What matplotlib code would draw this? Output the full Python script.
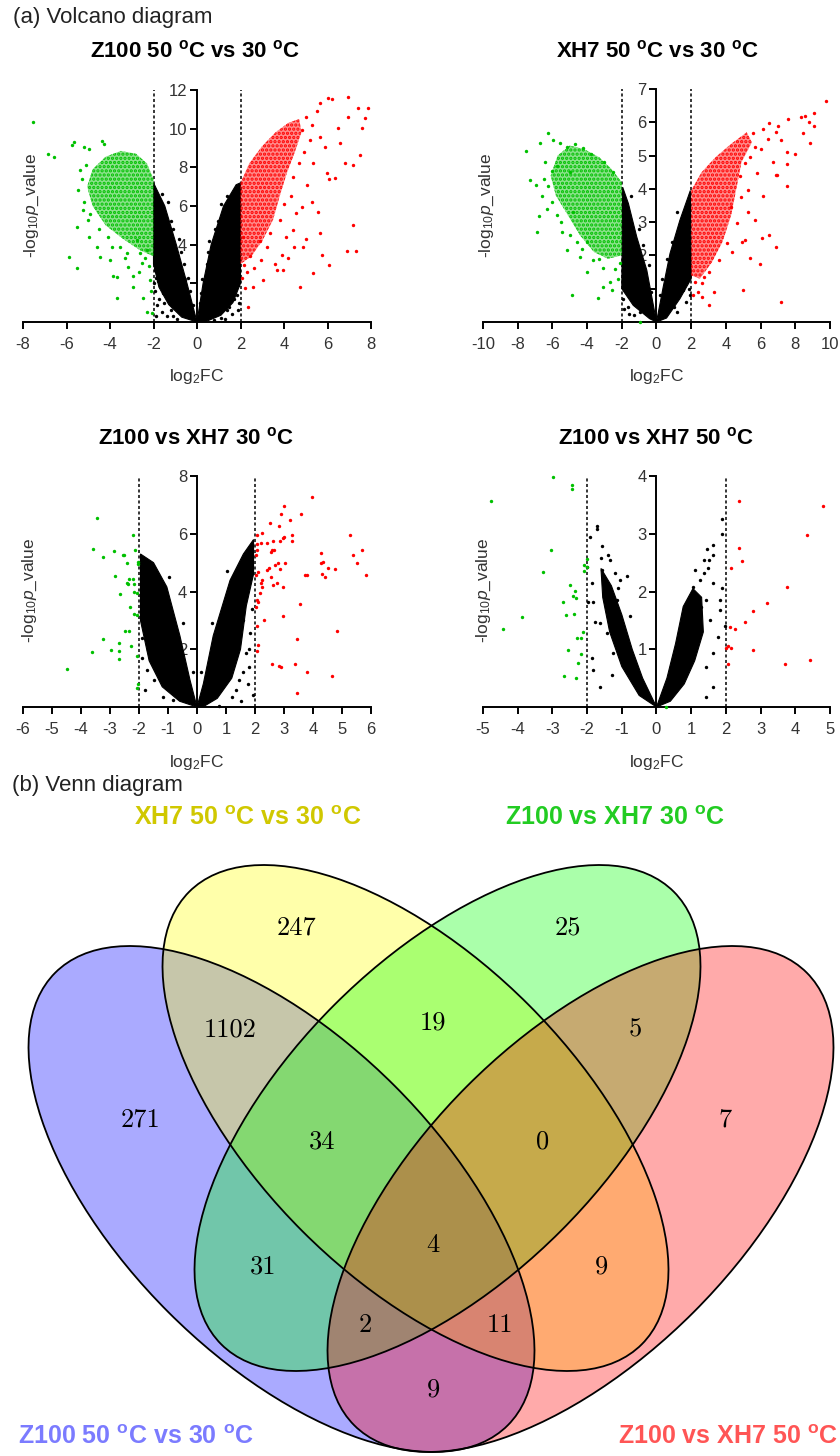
import numpy as np
import matplotlib.pyplot as plt
from matplotlib.patches import Ellipse, Polygon

plt.rcParams['font.family'] = ['Liberation Sans', 'DejaVu Sans']
plt.rcParams['mathtext.fontset'] = 'custom'
plt.rcParams['mathtext.rm'] = 'Liberation Sans'
plt.rcParams['mathtext.it'] = 'Liberation Sans:italic'
plt.rcParams['mathtext.bf'] = 'Liberation Sans:bold'
plt.rcParams['axes.unicode_minus'] = False
plt.rcParams['hatch.linewidth'] = 1.6

# ---------------- data ----------------
# volcano 1: Z100 50 C vs 30 C  (dense cores as outlines, loose points as points)
z1_black_left = [(0, 0), (-0.46, 2), (-0.95, 4), (-1.48, 6), (-2.0, 7.2), (-2.0, 3.0),
                 (-1.75, 1.8), (-1.3, 0.9), (-0.7, 0.25)]
z1_black_right = [(0, 0), (0.28, 2), (0.65, 4), (1.22, 6), (1.8, 7.1), (2.0, 7.2), (2.0, 2.0),
                  (1.65, 1.0), (1.1, 0.35), (0.4, 0.02)]
z1_black_pts = [(-1.9, 0.3), (-1.85, 0.9), (-1.95, 1.6), (-1.6, 0.5), (-1.4, 0.3), (-1.75, 1.2),
                (-1.55, 1.5), (-1.9, 2.3), (-1.1, 0.3), (-0.9, 0.15), (1.9, 0.6), (1.6, 0.4),
                (1.85, 1.4), (1.3, 0.15), (1.95, 1.0), (1.75, 1.7), (0.8, 0.1), (-2.0, 2.0),
                (1.4, 0.6), (-0.4, 2.3), (-0.85, 4.3), (-1.35, 6.2), (0.22, 2.2), (0.55, 4.2),
                (1.1, 6.1), (-0.2, 0.9), (0.15, 1.0), (-0.6, 3.0), (0.45, 3.0), (-1.2, 5.2),
                (0.95, 5.2), (-1.95, 2.7), (-1.8, 2.1), (-1.5, 1.0), (-1.2, 0.6), (1.9, 1.9),
                (1.7, 1.2), (1.45, 0.8), (1.1, 0.2), (-0.3, 1.6), (0.2, 1.5), (-0.75, 3.6),
                (0.5, 3.6), (-1.1, 4.8), (0.85, 4.8), (-1.6, 6.6), (1.4, 6.5)]
z1_green_core = [(-2.0, 3.4), (-2.0, 7.4), (-2.3, 8.2), (-2.8, 8.7), (-3.5, 8.85), (-4.2, 8.55),
                 (-4.8, 7.9), (-5.05, 7.0), (-4.8, 6.0), (-4.2, 5.0), (-3.4, 4.3), (-2.6, 3.7)]
z1_green_pts = [(-7.53, 10.36), (-6.84, 8.69), (-6.58, 8.52), (-5.76, 9.16), (-5.65, 9.3),
                (-5.2, 9.07), (-4.95, 8.95), (-4.38, 9.35), (-4.28, 9.19), (-5.38, 7.86),
                (-5.46, 6.83), (-5.5, 4.93), (-5.87, 3.34), (-5.5, 2.78), (-5.0, 5.28),
                (-4.95, 4.41), (-4.08, 4.41), (-3.69, 1.26), (-3.85, 2.4), (-3.7, 2.34),
                (-3.16, 2.86), (-2.96, 1.8), (-2.95, 2.4), (-2.54, 3.03), (-2.47, 1.22),
                (-2.31, 0.53), (-2.08, 0.45), (-2.62, 3.55), (-2.3, 3.7), (-3.2, 3.55),
                (-3.54, 3.9), (-4.46, 3.38), (-4.6, 3.9), (-4.0, 3.2), (-2.66, 2.6),
                (-2.16, 2.17), (-2.1, 1.6), (-2.76, 4.24), (-5.2, 6.2), (-5.3, 7.4),
                (-5.1, 8.1), (-4.9, 5.6), (-4.5, 4.8), (-3.9, 3.9), (-3.3, 3.3), (-2.2, 2.9),
                (-2.4, 3.3), (-5.25, 5.8)]
z1_red_core = [(2.0, 3.0), (2.0, 7.2), (2.4, 8.2), (3.0, 9.1), (3.6, 9.8), (4.2, 10.3),
               (4.7, 10.5), (4.8, 9.8), (4.5, 8.8), (4.1, 7.6), (3.8, 6.5), (3.5, 5.3),
               (3.0, 4.2), (2.5, 3.4)]
z1_red_pts = [(6.04, 11.57), (6.2, 11.55), (6.96, 11.62), (7.42, 11.05), (7.84, 11.05),
              (7.72, 10.54), (7.57, 10.02), (6.93, 10.58), (6.5, 10.02), (5.66, 11.31),
              (5.5, 10.9), (4.81, 9.93), (5.66, 9.59), (5.89, 9.07), (6.57, 9.24), (7.49, 8.64),
              (7.16, 8.12), (6.82, 8.2), (5.35, 8.21), (5.96, 7.69), (6.34, 7.43), (6.05, 7.4),
              (5.27, 6.22), (5.58, 5.71), (5.04, 7.09), (5.66, 4.59), (7.19, 5.02), (6.91, 3.69),
              (7.31, 3.69), (5.73, 3.47), (6.08, 2.95), (5.32, 2.55), (4.74, 1.8), (4.86, 3.86),
              (4.45, 3.9), (3.89, 3.47), (3.66, 2.69), (3.57, 3.0), (3.05, 2.17), (2.59, 1.83),
              (2.36, 0.79), (2.21, 1.74), (2.95, 3.2), (3.2, 3.9), (3.97, 2.69), (4.43, 4.76),
              (3.82, 5.28), (4.53, 5.62), (3.37, 4.59), (2.9, 4.2), (2.44, 3.4), (2.1, 4.4),
              (2.17, 2.95), (4.3, 6.5), (4.84, 5.96), (4.0, 6.1), (5.0, 10.6), (5.3, 10.2),
              (4.9, 8.8), (5.2, 9.4), (4.4, 7.5), (4.7, 8.2), (2.05, 2.3), (2.3, 2.6),
              (2.6, 2.8), (4.1, 4.4), (5.0, 4.3), (4.2, 3.3)]

# volcano 2: XH7 50 C vs 30 C
x2_black_left = [(0, 0), (-0.56, 1.56), (-1.14, 2.56), (-1.62, 3.56), (-1.95, 4.05),
                 (-2.0, 1.0), (-1.34, 0.5), (-0.4, 0.1)]
x2_black_right = [(0, 0), (0.39, 1.06), (0.78, 2.06), (1.35, 3.06), (1.95, 3.95), (2.0, 1.3),
                  (1.35, 0.7), (0.58, 0.12)]
x2_black_pts = [(-1.62, 0.46), (-0.95, 0.31), (-1.48, 1.06), (-1.77, 1.26), (-1.95, 0.7),
                (-1.3, 0.2), (1.74, 1.36), (1.55, 0.96), (0.98, 0.46), (1.9, 1.0), (1.2, 0.3),
                (-0.45, 1.7), (-1.0, 2.8), (0.3, 1.3), (1.2, 3.3), (-1.45, 3.8), (0.9, 2.4),
                (-1.85, 0.4), (-1.6, 0.25), (1.7, 0.6), (1.95, 0.8), (-0.3, 0.9), (0.2, 0.8),
                (-0.8, 2.3), (0.6, 1.9)]
x2_green_core = [(-2.0, 2.0), (-2.0, 4.2), (-2.6, 4.6), (-3.3, 4.95), (-4.2, 5.2), (-5.0, 5.3),
                 (-5.7, 5.0), (-6.1, 4.4), (-5.8, 3.8), (-5.1, 3.2), (-4.4, 2.6), (-3.6, 2.1),
                 (-2.8, 1.9)]
x2_green_pts = [(-7.29, 4.26), (-6.95, 4.11), (-6.9, 2.71), (-6.77, 3.18), (-6.23, 4.1),
                (-5.18, 2.16), (-4.89, 0.81), (-4.02, 1.51), (-3.35, 0.72), (-3.06, 1.05),
                (-2.67, 1.2), (-2.57, 0.95), (-2.1, 1.76), (-5.46, 2.71), (-4.6, 2.41),
                (-3.64, 1.86), (-3.06, 1.61), (-4.4, 1.96), (-6.0, 3.6), (-5.75, 3.2),
                (-6.6, 3.8), (-4.8, 3.3), (-4.0, 2.4), (-0.95, 0.01), (-7.52, 5.14),
                (-6.72, 5.37), (-6.24, 5.69), (-5.95, 5.47), (-5.56, 5.37), (-5.18, 5.27),
                (-4.71, 5.35), (-4.23, 5.22), (-6.43, 4.8), (-6.04, 4.55), (-5.75, 4.7),
                (-5.0, 4.5), (-6.5, 4.3), (-6.3, 3.4), (-5.5, 3.0), (-5.0, 2.6), (-4.3, 2.2),
                (-3.3, 1.9), (-2.4, 1.6), (-2.2, 1.3), (-3.8, 5.05), (-3.0, 4.8), (-2.5, 4.5)]
x2_red_core = [(2.0, 1.4), (2.0, 3.95), (2.6, 4.5), (3.4, 4.95), (4.3, 5.35), (5.2, 5.7),
               (5.5, 5.4), (4.9, 4.8), (4.6, 4.0), (4.3, 3.2), (3.8, 2.4), (3.2, 1.8), (2.5, 1.3)]
x2_red_pts = [(9.77, 6.65), (8.31, 6.15), (8.56, 6.18), (9.08, 6.28), (8.81, 6.01), (9.08, 5.88),
              (8.43, 5.68), (8.85, 5.38), (7.98, 5.05), (7.5, 5.12), (7.5, 4.75), (6.73, 4.82),
              (6.89, 4.42), (7.2, 5.48), (6.89, 5.7), (6.5, 5.98), (6.15, 5.81), (5.57, 5.67),
              (5.67, 5.27), (5.38, 4.97), (5.1, 4.77), (5.77, 4.47), (6.93, 4.41), (7.5, 4.08),
              (6.15, 3.79), (5.28, 3.31), (5.67, 3.06), (6.5, 2.61), (6.06, 2.51), (6.89, 2.26),
              (5.1, 2.46), (4.91, 2.41), (5.4, 1.91), (5.95, 1.74), (5.0, 0.96), (7.16, 0.61),
              (3.0, 0.51), (3.3, 0.91), (2.64, 0.76), (2.64, 1.16), (2.74, 1.36), (3.6, 1.86),
              (4.37, 2.11), (4.09, 2.36), (4.66, 2.96), (4.27, 3.46), (4.85, 3.76), (5.25, 3.96),
              (2.2, 1.2), (2.4, 0.9), (2.1, 0.8), (3.0, 1.5), (4.8, 4.4), (6.0, 5.2), (6.4, 5.5),
              (7.0, 5.9), (7.6, 6.1)]

# volcano 3: Z100 vs XH7 30 C
c30_black_left = [(0, 0), (-0.24, 0.93), (-0.59, 2.47), (-1.04, 4.16), (-1.5, 5.0), (-1.95, 5.3),
                  (-1.95, 3.0), (-1.65, 1.6), (-1.2, 0.7), (-0.6, 0.2)]
c30_black_right = [(0, 0), (0.22, 0.81), (0.56, 2.47), (1.14, 4.39), (1.6, 5.3), (1.95, 5.8),
                   (1.95, 4.6), (1.7, 3.5), (1.5, 2.0), (1.2, 1.0), (0.7, 0.3), (0.2, 0)]
c30_black_pts = [(-1.85, 3.0), (-1.68, 1.97), (-1.74, 1.28), (-1.5, 0.93), (-1.16, 0.36),
                 (-1.04, 0.81), (0.76, 0.02), (1.22, 0.36), (1.45, 0.93), (1.68, 1.86),
                 (1.79, 1.4), (1.6, 3.0), (1.84, 2.55), (1.94, 0.42), (-0.82, 0.24),
                 (-1.9, 2.4), (-1.8, 0.6), (1.9, 3.4), (1.75, 0.8), (1.5, 0.2), (-1.6, 2.5),
                 (-1.4, 1.5), (-1.9, 1.7), (1.8, 2.0), (1.6, 1.2), (1.35, 0.6), (-0.15, 1.2),
                 (0.15, 1.2), (-0.5, 2.9), (0.5, 2.9), (-0.95, 4.5), (1.05, 4.7)]
c30_green = [(-3.46, 6.53), (-2.22, 5.97), (-3.6, 5.47), (-3.23, 5.2), (-2.85, 5.41),
             (-2.56, 5.28), (-2.52, 5.28), (-2.14, 5.43), (-2.42, 4.99), (-2.04, 5.03),
             (-2.02, 4.95), (-2.83, 4.53), (-2.33, 4.42), (-2.22, 4.42), (-2.42, 4.3),
             (-2.37, 4.26), (-2.16, 4.26), (-2.16, 3.99), (-2.66, 3.91), (-2.06, 3.95),
             (-2.31, 3.45), (-2.17, 3.22), (-2.08, 3.17), (-2.48, 2.64), (-2.36, 2.64),
             (-3.23, 2.34), (-2.7, 2.22), (-2.97, 1.97), (-2.69, 1.94), (-2.26, 2.1),
             (-2.06, 1.76), (-2.69, 1.65), (-3.62, 1.89), (-4.49, 1.31), (-2.08, 0.65),
             (-2.02, 0.79)]
c30_red = [(3.95, 7.26), (3.0, 6.97), (2.89, 6.67), (3.58, 6.68), (3.21, 6.49), (2.52, 6.38),
           (2.84, 6.26), (2.23, 6.03), (2.08, 5.95), (3.28, 5.95), (3.0, 5.9), (2.98, 5.85),
           (2.61, 5.76), (2.41, 5.69), (2.22, 5.67), (2.07, 5.64), (3.27, 5.76), (2.87, 5.76),
           (2.58, 5.43), (2.66, 5.45), (2.55, 5.37), (2.07, 5.43), (2.02, 5.26), (2.8, 4.99),
           (3.03, 4.97), (2.69, 4.93), (2.49, 4.83), (2.41, 4.76), (2.86, 4.77), (2.09, 4.68),
           (2.02, 4.57), (2.54, 4.51), (2.23, 4.39), (2.19, 4.28), (2.23, 4.16), (2.61, 4.24),
           (2.75, 4.3), (2.95, 4.16), (2.16, 3.95), (2.06, 3.7), (2.12, 3.64), (2.02, 3.47),
           (2.31, 3.01), (2.06, 2.8), (2.95, 3.15), (3.55, 3.55), (2.11, 2.15), (2.06, 1.95),
           (3.44, 2.37), (4.82, 2.64), (2.58, 1.48), (2.84, 1.42), (2.9, 1.4), (3.38, 1.48),
           (3.78, 1.2), (4.64, 1.07), (3.44, 0.5), (4.28, 5.34), (4.35, 5.03), (4.5, 4.82),
           (4.26, 4.97), (4.3, 4.62), (4.41, 4.51), (4.76, 4.77), (3.72, 4.57), (3.8, 4.57),
           (5.28, 5.95), (5.68, 5.43), (5.38, 5.26), (5.52, 4.99), (5.83, 4.57)]

# volcano 4: Z100 vs XH7 50 C
c50_black_left = [(0, 0), (-0.4, 0.5), (-0.7, 1.0), (-1.0, 1.6), (-1.3, 2.1), (-1.6, 2.4),
                  (-1.55, 1.9), (-1.35, 1.3), (-1.0, 0.7), (-0.5, 0.2)]
c50_black_right = [(0, 0), (0.3, 0.5), (0.55, 1.1), (0.77, 1.74), (1.05, 2.05), (1.3, 1.9),
                   (1.35, 1.3), (1.1, 0.8), (0.8, 0.4), (0.4, 0.1)]
c50_black_pts = [(-1.92, 2.95), (-1.72, 3.13), (-1.71, 3.09), (-1.58, 2.79), (-1.39, 2.64),
                 (-1.6, 2.58), (-2.01, 2.43), (-1.87, 2.14), (-1.82, 1.82), (-1.97, 1.82),
                 (-1.63, 1.45), (-1.77, 1.48), (-1.87, 0.84), (-1.84, 0.64), (-1.63, 0.35),
                 (-1.29, 0.55), (-1.24, 0.93), (-1.44, 1.28), (-1.15, 1.86), (-1.05, 2.2),
                 (-1.1, 2.06), (-0.86, 2.26), (-1.2, 2.32), (-1.34, 2.55), (-1.58, 2.37),
                 (-1.48, 1.97), (-1.05, 1.4), (-0.76, 1.57), (1.88, 3.25), (1.88, 3.0),
                 (1.46, 2.73), (1.64, 2.8), (1.62, 2.63), (1.52, 2.55), (1.88, 2.06), (1.64, 2.14),
                 (1.44, 1.85), (1.54, 1.5), (1.82, 1.68), (1.78, 1.22), (1.64, 0.93), (1.44, 0.7),
                 (1.44, 0.18), (1.64, 0.35), (1.98, 1.41), (1.1, 2.37), (1.38, 2.32), (1.05, 2.08),
                 (1.29, 1.74), (1.2, 1.28), (1.0, 0.93), (0.72, 0.58), (1.25, 2.2), (1.82, 1.85),
                 (1.38, 2.55), (1.48, 2.4), (0.44, 0.46)]
c50_green = [(-2.99, 3.99), (-2.44, 3.84), (-2.44, 3.77), (-4.77, 3.56), (-3.05, 2.72),
             (-3.26, 2.34), (-2.01, 2.57), (-2.1, 2.46), (-1.99, 2.43), (-2.09, 2.36),
             (-2.49, 2.11), (-2.35, 2.01), (-2.42, 1.93), (-2.33, 1.89), (-2.7, 1.81),
             (-2.61, 1.6), (-2.38, 1.61), (-3.89, 1.56), (-4.41, 1.35), (-2.12, 1.3),
             (-2.3, 1.19), (-2.17, 1.19), (-2.54, 0.99), (-2.18, 0.91), (-2.25, 0.77),
             (-2.67, 0.54), (-2.32, 0.5), (0.27, 0.0)]
c50_red = [(2.39, 3.56), (4.79, 3.48), (4.33, 2.97), (2.39, 2.76), (2.46, 2.53), (2.14, 2.4),
           (3.75, 2.07), (3.18, 1.8), (2.79, 1.67), (2.55, 1.47), (2.26, 1.35), (2.11, 1.38),
           (2.07, 1.06), (2.01, 1.02), (2.14, 1.03), (2.77, 0.99), (2.07, 0.75), (4.42, 0.81),
           (3.7, 0.74)]

# Venn diagram
venn_sets = ['Z100 50 $^{\\mathbf{o}}$C vs 30 $^{\\mathbf{o}}$C',
             'XH7 50 $^{\\mathbf{o}}$C vs 30 $^{\\mathbf{o}}$C',
             'Z100 vs XH7 30 $^{\\mathbf{o}}$C',
             'Z100 vs XH7 50 $^{\\mathbf{o}}$C']
venn_counts = [247, 1102, 271, 34, 19, 25, 5, 7, 0, 4, 31, 9, 2, 11, 9]

# ---------------- figure ----------------
W, H = 840, 1456
fig = plt.figure(figsize=(W / 100, H / 100), dpi=100)

GREEN = '#00c000'
RED = '#ff0000'


def fx(px):
    return px / W


def fy(py):
    return 1 - py / H


def cloud(ax, poly, col):
    # dense part of a point cloud: light fill with a dotted texture on top
    ax.add_patch(Polygon(poly, closed=True, fc=col, ec='none', alpha=0.45, zorder=3))
    ax.add_patch(Polygon(poly, closed=True, fc='none', ec=col, lw=0, hatch='....', zorder=3))


def volcano(box, xlim, xstep, ylim, ystep, title, tx, ty, lab_x, lab_y, xl_y,
            black_cores, black_pts, green_cores, green_pts, red_cores, red_pts):
    l, r, t, b = box
    ax = fig.add_axes([fx(l), fy(b), (r - l) / W, (b - t) / H])
    ax.patch.set_alpha(0)
    ax.set_xlim(*xlim)
    ax.set_ylim(*ylim)
    ax.spines['top'].set_visible(False)
    ax.spines['right'].set_visible(False)
    ax.spines['left'].set_position(('data', 0))
    ax.spines['left'].set_bounds(0, ylim[1])
    for s in ['left', 'bottom']:
        ax.spines[s].set_linewidth(1.4)
    ax.set_xticks(np.arange(xlim[0], xlim[1] + 0.01, xstep))
    ax.set_yticks(np.arange(ystep, ylim[1] + 0.01, ystep))
    ax.xaxis.set_major_formatter(plt.FuncFormatter(lambda v, p: '%d' % round(v)))
    ax.yaxis.set_major_formatter(plt.FuncFormatter(lambda v, p: '%d' % round(v)))
    ax.tick_params(direction='out', length=5, width=1.4, labelsize=12,
                   labelcolor='#333333', pad=2)
    ax.tick_params(axis='x', pad=6)
    ax.vlines([-2, 2], 0, ylim[1], colors='black', linestyles=(0, (2, 1.6)), lw=1.1, zorder=2)

    for poly in black_cores:
        ax.add_patch(Polygon(poly, closed=True, fc='black', ec='black', lw=0.8, zorder=3))
    for poly in green_cores:
        cloud(ax, poly, GREEN)
    for poly in red_cores:
        cloud(ax, poly, RED)
    for pts, c in [(black_pts, 'black'), (green_pts, GREEN), (red_pts, RED)]:
        if len(pts):
            xs, ys = np.array(pts).T
            ax.scatter(xs, ys, s=6, c=c, linewidths=0, zorder=4, clip_on=False)

    fig.text(fx(tx), fy(ty), title, ha='center', va='center', fontsize=16,
             fontweight='bold')
    fig.text(fx(lab_x), fy(lab_y), '-log$_{10}$$\\mathit{p}$_value', rotation=90,
             ha='center', va='center', fontsize=12.5, color='#333333')
    fig.text(fx((l + r) / 2), fy(xl_y), 'log$_2$FC', ha='center', va='center',
             fontsize=12.5, color='#333333')
    return ax


volcano((23, 371, 90, 322), (-8, 8), 2, (0, 12), 2,
        'Z100 50 $^{\\mathbf{o}}$C vs 30 $^{\\mathbf{o}}$C', 195, 51, 32, 205, 376,
        [z1_black_left, z1_black_right], z1_black_pts, [z1_green_core], z1_green_pts,
        [z1_red_core], z1_red_pts)
volcano((483, 830, 89, 322), (-10, 10), 2, (0, 7), 1,
        'XH7 50 $^{\\mathbf{o}}$C vs 30 $^{\\mathbf{o}}$C', 657, 51, 487, 205, 376,
        [x2_black_left, x2_black_right], x2_black_pts, [x2_green_core], x2_green_pts,
        [x2_red_core], x2_red_pts)
volcano((23, 371, 476, 707), (-6, 6), 1, (0, 8), 2,
        'Z100 vs XH7 30 $^{\\mathbf{o}}$C', 196, 438, 30, 590, 763,
        [c30_black_left, c30_black_right], c30_black_pts, [], c30_green, [], c30_red)
volcano((483, 830, 476, 707), (-5, 5), 1, (0, 4), 1,
        'Z100 vs XH7 50 $^{\\mathbf{o}}$C', 656, 438, 484, 590, 763,
        [c50_black_left, c50_black_right], c50_black_pts, [], c50_green, [], c50_red)

fig.text(fx(13), fy(17), '(a) Volcano diagram', ha='left', va='center', fontsize=16,
         color='#222222')
fig.text(fx(12), fy(785), '(b) Venn diagram', ha='left', va='center', fontsize=16,
         color='#222222')

# Venn: axes in pixel units (y down)
vax = fig.add_axes([0, 0, 1, 1], zorder=0)
vax.set_xlim(0, W)
vax.set_ylim(H, 0)
vax.axis('off')

ell_centers = [(281.5, 1199), (415.5, 1118), (447.5, 1118), (580.5, 1199)]
ell_angles = [45, 45, -45, -45]
ell_colors = ['#0000ff', '#ffff00', '#00ff00', '#ff0000']
for (cx, cy), ang, col in zip(ell_centers, ell_angles, ell_colors):
    vax.add_patch(Ellipse((cx, cy), 640, 320, angle=ang, fc=col, ec='none', alpha=1 / 3))
for (cx, cy), ang in zip(ell_centers, ell_angles):
    vax.add_patch(Ellipse((cx, cy), 640, 320, angle=ang, fill=False, ec='black', lw=1.3))

count_pos = [(297, 928), (230, 1030), (140, 1120), (322, 1142), (433, 1023), (568, 928),
             (635, 1030), (725, 1120), (543, 1142), (433, 1245), (263, 1267), (602, 1267),
             (365, 1325), (500, 1325), (433, 1390)]
for (px, py), n in zip(count_pos, venn_counts):
    vax.text(px, py, str(n), family='cmr10', fontsize=19, ha='center', va='center')

label_pos = [(136, 1437), (248, 818), (615, 818), (728, 1437)]
label_colors = ['#7b7bff', '#d0c800', '#22cc22', '#ff5555']
for (px, py), name, col in zip(label_pos, venn_sets, label_colors):
    vax.text(px, py, name, color=col, fontsize=18, fontweight='bold', ha='center', va='center')

fig.savefig('out.png', dpi=100)
